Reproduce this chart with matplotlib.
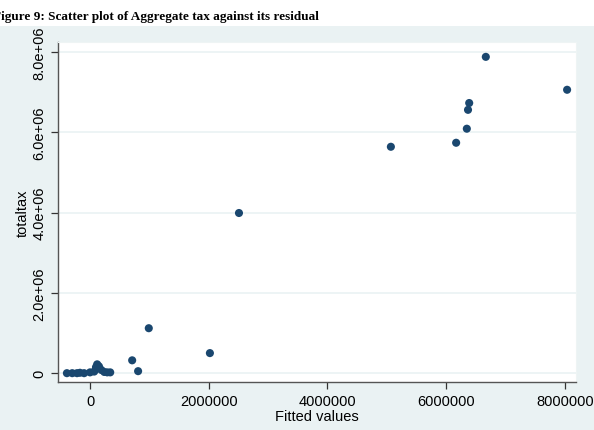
import matplotlib.pyplot as plt
from matplotlib.patches import Rectangle

# fitted values (x) and totaltax (y)
fitted = [6.67e6, 8.04e6, 6.39e6, 6.37e6, 6.35e6, 6.17e6, 5.07e6,
          2.51e6, 0.99e6, 2.02e6, 0.71e6, 0.81e6,
          -0.39e6, -0.30e6, -0.22e6, -0.17e6, -0.10e6, 0.0, 0.07e6,
          0.10e6, 0.12e6, 0.15e6, 0.19e6, 0.24e6, 0.29e6, 0.34e6]
totaltax = [7.88e6, 7.06e6, 6.73e6, 6.56e6, 6.09e6, 5.74e6, 5.64e6,
            3.99e6, 1.12e6, 0.50e6, 0.32e6, 0.05e6,
            0.0, 0.0, 0.0, 0.01e6, 0.0, 0.02e6, 0.04e6,
            0.15e6, 0.22e6, 0.17e6, 0.08e6, 0.03e6, 0.02e6, 0.02e6]

xticks = [0, 2000000, 4000000, 6000000, 8000000]
yticks = [0, 2e6, 4e6, 6e6, 8e6]
ytick_labels = ["0", "2.0e+06", "4.0e+06", "6.0e+06", "8.0e+06"]

bg = "#eaf2f3"
navy = "#1a476f"

plt.rcParams["font.family"] = ["Liberation Sans", "DejaVu Sans"]

fig = plt.figure(figsize=(5.94, 4.31), dpi=100, facecolor="white")
fig.patches.append(Rectangle((0, 0), 1, 404 / 431, transform=fig.transFigure,
                             facecolor=bg, edgecolor="none", zorder=-10))

ax = fig.add_axes([58 / 594, 1 - 383 / 431, 518 / 594, 340 / 431])
ax.set_facecolor("white")
ax.scatter(fitted, totaltax, s=34, color=navy, edgecolors="none", zorder=3)

ax.set_xlim(-0.54e6, 8.19e6)
ax.set_ylim(-0.22e6, 8.25e6)
ax.set_xticks(xticks)
ax.set_xticklabels([str(v) for v in xticks])
ax.set_yticks(yticks)
ax.set_yticklabels(ytick_labels, rotation=90, va="center")
ax.grid(axis="y", color="#eaf2f3", linewidth=1.2, zorder=0)
ax.tick_params(colors="#333333", labelsize=10.5, length=5, width=0.9, labelcolor="black")

for side in ["top", "right"]:
    ax.spines[side].set_color("#eef4f4")
for side in ["left", "bottom"]:
    ax.spines[side].set_color("#555555")
    ax.spines[side].set_linewidth(1.0)

ax.set_xlabel("Fitted values", fontsize=10.5, labelpad=1)
ax.set_ylabel("totaltax", fontsize=10.5, labelpad=2)

fig.text(-0.012, 414 / 431, "Figure 9: Scatter plot of Aggregate tax against its residual",
         family=["Liberation Serif", "DejaVu Serif"], fontweight="bold", fontsize=9.5,
         ha="left", va="center")

plt.savefig("out.png", dpi=100)
plt.close()
